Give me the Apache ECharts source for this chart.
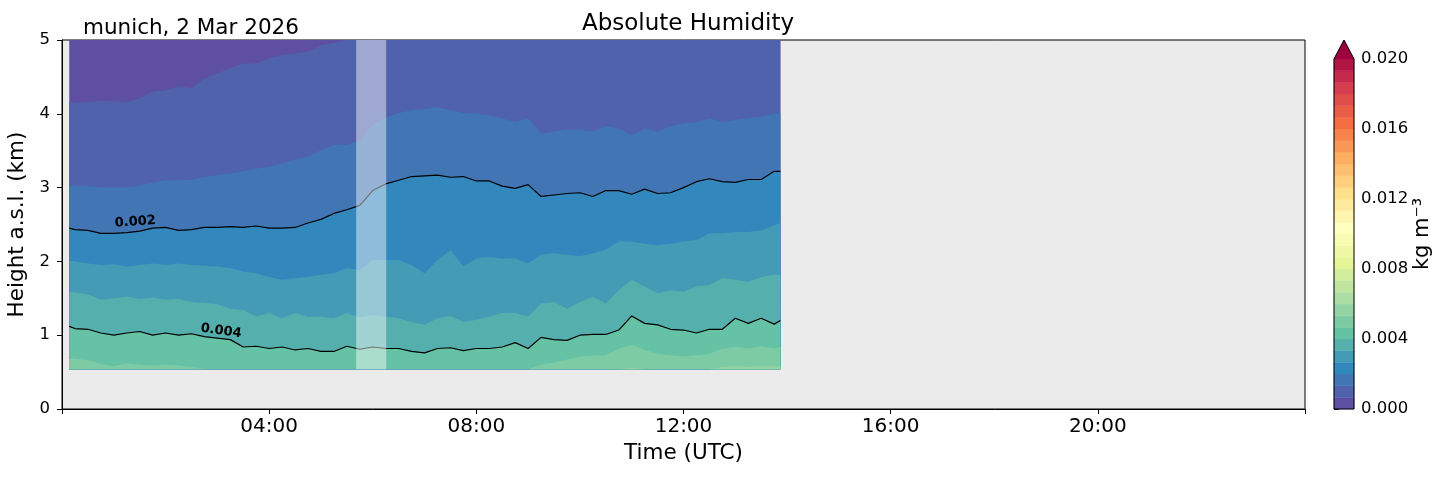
<!DOCTYPE html>
<html>
<head>
<meta charset="utf-8">
<title>Absolute Humidity</title>
<script src="https://cdn.jsdelivr.net/npm/echarts@6/dist/echarts.min.js"></script>
<style>
html, body { margin: 0; padding: 0; background: #fff; }
#chart { width: 1454px; height: 478px; }
</style>
</head>
<body>
<div id="chart"></div>
<script>
// time of each profile (UTC hours)
var hours = [0.14, 0.25, 0.5, 0.75, 1.0, 1.25, 1.5, 1.75, 2.0, 2.25, 2.5, 2.75, 3.0, 3.25, 3.5, 3.75,
  4.0, 4.25, 4.5, 4.75, 5.0, 5.25, 5.5, 5.75, 6.0, 6.25, 6.5, 6.75, 7.0, 7.25, 7.5, 7.75,
  8.0, 8.25, 8.5, 8.75, 9.0, 9.25, 9.5, 9.75, 10.0, 10.25, 10.5, 10.75, 11.0, 11.25, 11.5, 11.75,
  12.0, 12.25, 12.5, 12.75, 13.0, 13.25, 13.5, 13.75, 13.87];

// height (km) where humidity crosses each contour level (kg m-3)
var z00067 = [4.16, 4.15, 4.16, 4.18, 4.17, 4.16, 4.21, 4.30, 4.32, 4.37, 4.35, 4.48, 4.55, 4.62, 4.68, 4.68,
  4.75, 4.80, 4.82, 4.84, 4.93, 4.96, 5.0, 5.3, 5.3, 5.3, 5.3, 5.3, 5.3, 5.3, 5.3, 5.3,
  5.3, 5.3, 5.3, 5.3, 5.3, 5.3, 5.3, 5.3, 5.3, 5.3, 5.3, 5.3, 5.3, 5.3, 5.3, 5.3,
  5.3, 5.3, 5.3, 5.3, 5.3, 5.3, 5.3, 5.3, 5.3];
var z00133 = [3.03, 3.03, 3.02, 3.00, 3.00, 3.00, 3.03, 3.07, 3.10, 3.10, 3.11, 3.14, 3.17, 3.19, 3.22, 3.26,
  3.28, 3.33, 3.38, 3.42, 3.51, 3.58, 3.58, 3.64, 3.85, 3.95, 4.01, 4.05, 4.06, 4.09, 4.05, 4.01,
  4.00, 3.98, 3.94, 3.89, 3.94, 3.73, 3.76, 3.79, 3.78, 3.76, 3.83, 3.80, 3.71, 3.80, 3.76, 3.83,
  3.87, 3.89, 3.94, 3.89, 3.92, 3.94, 3.96, 4.00, 4.01];
var z00200 = [2.45, 2.43, 2.42, 2.38, 2.38, 2.39, 2.41, 2.45, 2.46, 2.42, 2.43, 2.46, 2.46, 2.47, 2.46, 2.48,
  2.45, 2.45, 2.46, 2.52, 2.57, 2.65, 2.70, 2.76, 2.96, 3.05, 3.10, 3.15, 3.16, 3.17, 3.14, 3.15,
  3.09, 3.09, 3.02, 2.99, 3.04, 2.88, 2.90, 2.92, 2.93, 2.88, 2.96, 2.96, 2.91, 2.98, 2.92, 2.93,
  3.00, 3.08, 3.12, 3.08, 3.07, 3.11, 3.11, 3.22, 3.22];
var z00267 = [2.01, 2.00, 1.97, 1.95, 1.96, 1.93, 1.95, 1.97, 1.95, 1.97, 1.95, 1.94, 1.93, 1.91, 1.86, 1.84,
  1.79, 1.75, 1.77, 1.79, 1.82, 1.84, 1.91, 1.88, 2.02, 2.02, 2.02, 1.95, 1.84, 2.02, 2.15, 1.93,
  2.04, 2.06, 2.04, 2.04, 1.97, 2.09, 2.11, 2.09, 2.07, 2.11, 2.16, 2.27, 2.27, 2.24, 2.22, 2.24,
  2.27, 2.29, 2.38, 2.38, 2.40, 2.40, 2.42, 2.49, 2.52];
var z00333 = [1.59, 1.58, 1.55, 1.48, 1.50, 1.52, 1.49, 1.51, 1.48, 1.49, 1.45, 1.44, 1.42, 1.36, 1.34, 1.25,
  1.30, 1.23, 1.30, 1.25, 1.25, 1.23, 1.30, 1.24, 1.27, 1.25, 1.23, 1.18, 1.14, 1.23, 1.26, 1.18,
  1.21, 1.25, 1.30, 1.30, 1.25, 1.43, 1.45, 1.36, 1.45, 1.52, 1.43, 1.61, 1.75, 1.66, 1.57, 1.61,
  1.59, 1.66, 1.68, 1.77, 1.75, 1.72, 1.79, 1.82, 1.82];
var z00400 = [1.12, 1.09, 1.08, 1.03, 1.00, 1.03, 1.05, 1.00, 1.03, 1.00, 1.02, 0.98, 0.96, 0.94, 0.84, 0.85,
  0.82, 0.84, 0.80, 0.82, 0.78, 0.78, 0.85, 0.81, 0.84, 0.82, 0.82, 0.78, 0.76, 0.82, 0.83, 0.79,
  0.82, 0.82, 0.84, 0.90, 0.82, 0.97, 0.94, 0.93, 1.00, 1.01, 1.01, 1.07, 1.26, 1.16, 1.14, 1.08,
  1.07, 1.03, 1.08, 1.08, 1.23, 1.16, 1.23, 1.15, 1.20];
var z00467 = [0.68, 0.68, 0.66, 0.61, 0.58, 0.62, 0.60, 0.59, 0.60, 0.59, 0.57, 0.54, 0.54, 0.54, 0.54, 0.54,
  0.54, 0.54, 0.54, 0.54, 0.54, 0.54, 0.54, 0.54, 0.54, 0.54, 0.54, 0.54, 0.54, 0.54, 0.54, 0.54,
  0.54, 0.54, 0.54, 0.54, 0.54, 0.60, 0.63, 0.67, 0.71, 0.72, 0.73, 0.82, 0.87, 0.80, 0.75, 0.73,
  0.71, 0.73, 0.75, 0.82, 0.84, 0.82, 0.85, 0.82, 0.84];
var z00533 = [0.54, 0.54, 0.54, 0.54, 0.54, 0.54, 0.54, 0.54, 0.54, 0.54, 0.54, 0.54, 0.54, 0.54, 0.54, 0.54,
  0.54, 0.54, 0.54, 0.54, 0.54, 0.54, 0.54, 0.54, 0.54, 0.54, 0.54, 0.54, 0.54, 0.54, 0.54, 0.54,
  0.54, 0.54, 0.54, 0.54, 0.54, 0.54, 0.54, 0.54, 0.54, 0.54, 0.54, 0.54, 0.56, 0.54, 0.54, 0.54,
  0.54, 0.54, 0.54, 0.57, 0.58, 0.57, 0.58, 0.58, 0.58];

var dataBottomKm = 0.54;
var dataTopKm = 5;
var gapHours = [5.68, 6.26];           // no-data stretch, greyed out
var cbMax = 0.020;
var cbBands = 30;

var FONT = 'DejaVu Sans';
var spectralR = ['#5e4fa2', '#3288bd', '#66c2a5', '#abdda4', '#e6f598', '#ffffbf',
  '#fee08b', '#fdae61', '#f46d43', '#d53e4f', '#9e0142'];

function hexRgb(h) {
  return [parseInt(h.substr(1, 2), 16), parseInt(h.substr(3, 2), 16), parseInt(h.substr(5, 2), 16)];
}
function cmap(f) {
  f = Math.max(0, Math.min(1, f));
  var p = f * 10, i = Math.min(9, Math.floor(p)), r = p - i;
  var a = hexRgb(spectralR[i]), b = hexRgb(spectralR[i + 1]);
  return 'rgb(' + [0, 1, 2].map(function (k) { return Math.round(a[k] + (b[k] - a[k]) * r); }).join(',') + ')';
}
// boundary norm: band i takes the colour at i / number of bands, the top arrow the last colour
function bandColor(i) { return cmap(i / cbBands); }

var chart = echarts.init(document.getElementById('chart'));

// band i is filled from the bottom of the data up to the height of its upper level
var topArr = hours.map(function () { return dataTopKm; });
var bounds = [topArr, z00067, z00133, z00200, z00267, z00333, z00400, z00467, z00533];

var series = [];
bounds.forEach(function (arr, i) {
  series.push({
    type: 'line', xAxisIndex: 0, yAxisIndex: 0, silent: true, z: 2,
    data: hours.map(function (t, j) { return [t, arr[j]]; }),
    symbol: 'none',
    lineStyle: { width: 0, opacity: 0 },
    areaStyle: { color: bandColor(i), opacity: 1, origin: dataBottomKm }
  });
});

function contourLine(arr, labelIdx, text, rot, off) {
  return {
    type: 'line', xAxisIndex: 0, yAxisIndex: 0, silent: true, z: 3,
    showSymbol: true, symbol: 'circle', symbolSize: 0,
    lineStyle: { color: '#000', width: 1.2 },
    label: { show: false, position: 'top', distance: 3, fontFamily: FONT, fontWeight: 'bold', fontSize: 13, color: '#000' },
    data: hours.map(function (t, j) {
      if (j === labelIdx) return { value: [t, arr[j]], label: { show: true, formatter: text, rotate: rot, offset: off } };
      return [t, arr[j]];
    })
  };
}
series.push(contourLine(z00200, 6, '0.002', 4, [-4, 0]));
series.push(contourLine(z00400, 12, '0.004', -8, [3, 2]));

// translucent white over the data gap
series.push({
  type: 'custom', xAxisIndex: 0, yAxisIndex: 0, silent: true, z: 5,
  data: [[gapHours[0], gapHours[1]]],
  renderItem: function (params, api) {
    var p1 = api.coord([api.value(0), dataTopKm]), p2 = api.coord([api.value(1), dataBottomKm]);
    return {
      type: 'rect',
      shape: { x: p1[0], y: p1[1], width: p2[0] - p1[0], height: p2[1] - p1[1] },
      style: { fill: 'rgba(255,255,255,0.45)' }
    };
  }
});

// colour bar
var cbData = [];
for (var b = 0; b < cbBands; b++) cbData.push([b * cbMax / cbBands, (b + 1) * cbMax / cbBands, b]);
series.push({
  type: 'custom', xAxisIndex: 1, yAxisIndex: 1, silent: true, z: 2,
  data: cbData,
  renderItem: function (params, api) {
    var p1 = api.coord([0, api.value(1)]), p2 = api.coord([1, api.value(0)]);
    var c = bandColor(api.value(2));
    return {
      type: 'rect',
      shape: { x: p1[0], y: p1[1], width: p2[0] - p1[0], height: p2[1] - p1[1] },
      style: { fill: c, stroke: c, lineWidth: 0.5 }
    };
  }
});
series.push({
  type: 'custom', xAxisIndex: 1, yAxisIndex: 1, silent: true, z: 3, clip: false,
  data: [[cbMax]],
  renderItem: function (params, api) {
    var tl = api.coord([0, api.value(0)]), tr = api.coord([1, api.value(0)]);
    var bl = api.coord([0, 0]), br = api.coord([1, 0]);
    var tip = [(tl[0] + tr[0]) / 2, tl[1] - 19];
    return {
      type: 'group',
      children: [
        { type: 'polygon', shape: { points: [tl, tr, tip] }, style: { fill: cmap(1), stroke: cmap(1), lineWidth: 0.5 } },
        { type: 'polyline', shape: { points: [tl, bl, br, tr, tip, tl] }, style: { fill: null, stroke: '#000', lineWidth: 1 } }
      ]
    };
  }
});

function hhmm(v) {
  if (v <= 0 || v >= 24) return '';
  return (v < 10 ? '0' : '') + v + ':00';
}

chart.setOption({
  animation: false,
  backgroundColor: '#fff',
  textStyle: { fontFamily: FONT, color: '#000' },
  title: [
    { text: 'Absolute Humidity', left: 683, top: 8, textAlign: 'center',
      textStyle: { fontFamily: FONT, fontSize: 23, fontWeight: 'normal', color: '#000' } },
    { text: 'munich, 2 Mar 2026', left: 78, top: 12,
      textStyle: { fontFamily: FONT, fontSize: 21.5, fontWeight: 'normal', color: '#000' } }
  ],
  grid: [
    { left: 62, right: 149, top: 40, bottom: 69, outerBoundsMode: 'none',
      show: true, backgroundColor: '#ebebeb', borderColor: '#000', borderWidth: 1 },
    { left: 1334, width: 20, top: 59, bottom: 69, outerBoundsMode: 'none' }
  ],
  xAxis: [
    { type: 'value', gridIndex: 0, min: 0, max: 24, interval: 4,
      name: 'Time (UTC)', nameLocation: 'middle', nameGap: 33,
      nameTextStyle: { fontFamily: FONT, fontSize: 21.5, color: '#000' },
      axisLine: { lineStyle: { color: '#000', width: 1 } },
      axisTick: { length: 5, lineStyle: { color: '#000' } },
      axisLabel: { formatter: hhmm, fontFamily: FONT, fontSize: 20, color: '#000', margin: 8, showMinLabel: true, showMaxLabel: true },
      splitLine: { show: false } },
    { type: 'value', gridIndex: 1, min: 0, max: 1, show: false }
  ],
  yAxis: [
    { type: 'value', gridIndex: 0, min: 0, max: 5, interval: 1,
      name: 'Height a.s.l. (km)', nameLocation: 'middle', nameGap: 31,
      nameTextStyle: { fontFamily: FONT, fontSize: 21.5, color: '#000' },
      axisLine: { show: true, lineStyle: { color: '#000', width: 1 } },
      axisTick: { show: true, length: 5, lineStyle: { color: '#000' } },
      axisLabel: { fontFamily: FONT, fontSize: 16.5, color: '#000', margin: 12 },
      splitLine: { show: false } },
    { type: 'value', gridIndex: 1, min: 0, max: cbMax, interval: 0.004, position: 'right',
      name: 'kg m\u207b\u00b3', nameLocation: 'middle', nameGap: 58, nameRotate: 90,
      nameTextStyle: { fontFamily: FONT, fontSize: 21, color: '#000' },
      axisLine: { show: false },
      axisTick: { show: true, length: 5, lineStyle: { color: '#000' } },
      axisLabel: { fontFamily: FONT, fontSize: 16.5, color: '#000', margin: 7,
        formatter: function (v) { return v.toFixed(3); } },
      splitLine: { show: false } }
  ],
  series: series
});
</script>
</body>
</html>
